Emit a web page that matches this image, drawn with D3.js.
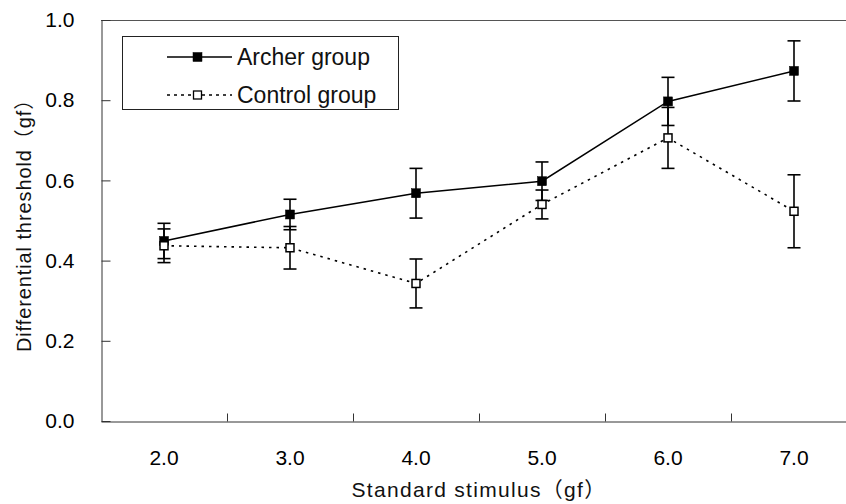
<!DOCTYPE html>
<html>
<head>
<meta charset="utf-8">
<script src="https://cdn.jsdelivr.net/npm/d3@7"></script>
<style>
  body { margin: 0; background: #fff; }
  svg { display: block; font-family: "Liberation Sans", Arial, "Noto Sans CJK JP", sans-serif; }
</style>
</head>
<body>
<div class="chartHolder"></div>
<script>
var categories = ["2.0", "3.0", "4.0", "5.0", "6.0", "7.0"];
var archer = [0.449, 0.515, 0.568, 0.598, 0.797, 0.873];
var archerErr = [0.044, 0.038, 0.062, 0.048, 0.06, 0.075];
var control = [0.437, 0.432, 0.343, 0.540, 0.706, 0.523];
var controlErr = [0.042, 0.053, 0.061, 0.036, 0.076, 0.091];
var yTicks = [0, 0.2, 0.4, 0.6, 0.8, 1.0];

var svgW = 846, svgH = 504;
var margin = { top: 20, left: 101, bottom: 83 },
    plotRight = 857;

var svg = d3.select(".chartHolder").append("svg").attr("width", svgW).attr("height", svgH);

var xScale = d3.scaleBand().domain(categories).range([margin.left, plotRight]).padding(0);
var yScale = d3.scaleLinear().domain([0, 1]).range([svgH - margin.bottom, margin.top]);
var cx = function (i) { return xScale(categories[i]) + xScale.bandwidth() / 2; };

// top frame line
svg.append("line")
  .attr("x1", margin.left).attr("x2", plotRight)
  .attr("y1", yScale(1) + 0.5).attr("y2", yScale(1) + 0.5)
  .attr("stroke", "#555").attr("stroke-width", 1);

// y axis
var yAxis = d3.axisLeft(yScale).tickValues(yTicks).tickFormat(d3.format(".1f"))
  .tickSize(-9).tickSizeOuter(0).tickPadding(27);
var gy = svg.append("g").attr("transform", "translate(" + (margin.left + 0.5) + ",0)").call(yAxis);
gy.selectAll("path, line").attr("stroke", "#333");
gy.selectAll("text").attr("font-size", 21).attr("fill", "#000").attr("font-family", null);

// x axis
var xAxis = d3.axisBottom(xScale).tickSize(0).tickPadding(29);
var gx = svg.append("g").attr("transform", "translate(0," + (yScale(0) + 0.5) + ")").call(xAxis);
gx.select(".domain").attr("stroke", "#333");
gx.selectAll("text").attr("font-size", 21).attr("fill", "#000").attr("font-family", null);
gx.selectAll(".boundary").data(categories.slice(1)).enter().append("line")
  .attr("x1", function (d) { return xScale(d) + 0.5; })
  .attr("x2", function (d) { return xScale(d) + 0.5; })
  .attr("y1", 0).attr("y2", -8)
  .attr("stroke", "#333");

// axis titles
svg.append("text")
  .attr("x", (margin.left + plotRight) / 2).attr("y", 497)
  .attr("text-anchor", "middle").attr("font-size", 21).attr("letter-spacing", 1.3).attr("fill", "#111")
  .text("Standard stimulus（gf）");
svg.append("text")
  .attr("transform", "translate(31," + ((yScale(0) + yScale(1)) / 2) + ") rotate(-90)")
  .attr("text-anchor", "middle").attr("font-size", 20).attr("letter-spacing", 0.9).attr("fill", "#111")
  .text("Differential threshold（gf）");

function drawSeries(values, errs, dashed, filled) {
  var line = d3.line().x(function (d, i) { return cx(i); }).y(function (d) { return yScale(d); });
  svg.append("path").datum(values)
    .attr("d", line).attr("fill", "none").attr("stroke", "#000")
    .attr("stroke-width", dashed ? 1.6 : 1.5)
    .attr("stroke-dasharray", dashed ? "2.5,5" : null);

  var eb = svg.append("g").attr("stroke", "#000").attr("stroke-width", 1.6);
  values.forEach(function (v, i) {
    var x = cx(i), hi = yScale(v + errs[i]), lo = yScale(v - errs[i]);
    eb.append("line").attr("x1", x).attr("x2", x).attr("y1", hi).attr("y2", lo);
    eb.append("line").attr("x1", x - 6.5).attr("x2", x + 6.5).attr("y1", hi).attr("y2", hi);
    eb.append("line").attr("x1", x - 6.5).attr("x2", x + 6.5).attr("y1", lo).attr("y2", lo);
  });

  var s = filled ? 9 : 8;
  svg.append("g").selectAll("rect").data(values).enter().append("rect")
    .attr("x", function (d, i) { return cx(i) - s / 2; })
    .attr("y", function (d) { return yScale(d) - s / 2; })
    .attr("width", s).attr("height", s)
    .attr("fill", filled ? "#000" : "#fff")
    .attr("stroke", "#000").attr("stroke-width", filled ? 0.5 : 1.5);
}

drawSeries(archer, archerErr, false, true);
drawSeries(control, controlErr, true, false);

// legend
var legend = svg.append("g");
legend.append("rect")
  .attr("x", 122.5).attr("y", 36.5).attr("width", 276).attr("height", 73)
  .attr("fill", "#fff").attr("stroke", "#222").attr("stroke-width", 1);
var legendItems = [
  { name: "Archer group", dashed: false, filled: true, y: 57 },
  { name: "Control group", dashed: true, filled: false, y: 95 }
];
legendItems.forEach(function (d) {
  legend.append("line")
    .attr("x1", 167).attr("x2", 232).attr("y1", d.y).attr("y2", d.y)
    .attr("stroke", "#000").attr("stroke-width", 1.4)
    .attr("stroke-dasharray", d.dashed ? "3,4" : null);
  var s = d.filled ? 9 : 8;
  legend.append("rect")
    .attr("x", 197.5 - s / 2).attr("y", d.y - s / 2).attr("width", s).attr("height", s)
    .attr("fill", d.filled ? "#000" : "#fff").attr("stroke", "#000").attr("stroke-width", d.filled ? 0.5 : 1.3);
  legend.append("text")
    .attr("x", 237).attr("y", d.y + 8)
    .attr("font-size", 23).attr("fill", "#111")
    .text(d.name);
});
</script>
</body>
</html>
